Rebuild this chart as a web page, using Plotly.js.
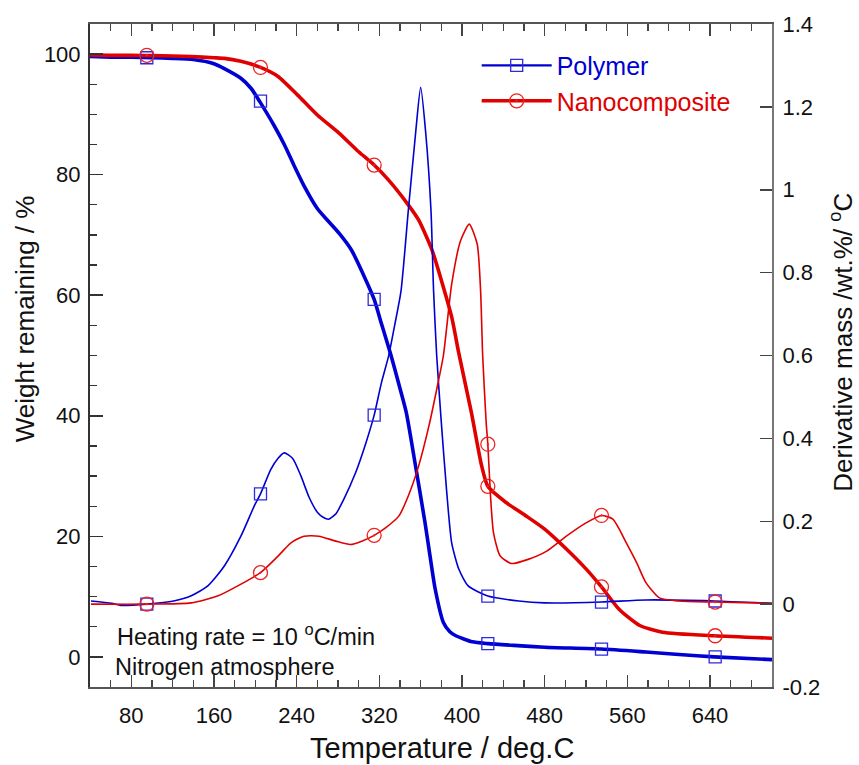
<!DOCTYPE html>
<html>
<head>
<meta charset="utf-8">
<script src="https://cdn.plot.ly/plotly-3.0.1.min.js"></script>
<style>html,body{margin:0;padding:0;background:#fff;}#chart{width:859px;height:765px;}</style>
</head>
<body>
<div id="chart"></div>
<script>
// ---- data ----
const polyTgaX = [40,60,80,100,120,140,160,170,186,196,204,218,228,237,247,260,270,281,293,307,315,322,331,338,346,355,364,369,374,382,388,394,410,425,450,480,535,578,610,644,700];
const polyTgaY = [99.6,99.5,99.5,99.4,99.3,99.1,98.4,97.6,96.0,94.3,92.2,88.2,85.0,81.7,78.2,74.4,72.4,70.3,67.5,62.5,59.3,55.3,50.2,45.8,40.6,31.7,22.5,16.8,11.3,5.7,4.2,3.5,2.5,2.2,1.9,1.6,1.3,0.8,0.4,0.0,-0.45];

const nanoTgaX = [40,60,80,100,120,138,160,170,186,205,222,241,260,281,300,315,329,348,358,371,380,390,397,409,419,425,442,461,480,501,520,535,552,572,594,644,700];
const nanoTgaY = [99.85,99.8,99.8,99.75,99.7,99.6,99.4,99.3,98.8,97.8,96.3,93.2,89.9,86.9,83.8,81.6,79.1,75.0,72.5,67.5,62.5,56.4,50.3,40.6,31.7,28.3,25.7,23.5,21.2,17.9,14.6,11.6,7.9,5.2,4.1,3.5,3.1];

const polyDtgX = [41,61,70,95,121,138,154,170,186,199,205,215,222,228,236,244,252,260,266,271,278,285,297,307,315,322,329,335,341,348,355,360,365,370,372.5,375.5,380,385,390,397,406,425,455,480,535,578,644,700];
const polyDtgY = [0.0075,0.002,-0.003,0.0,0.0075,0.02,0.044,0.092,0.164,0.237,0.266,0.325,0.352,0.365,0.352,0.31,0.258,0.222,0.209,0.205,0.218,0.25,0.317,0.389,0.456,0.534,0.599,0.675,0.756,0.949,1.134,1.247,1.134,0.949,0.756,0.600,0.438,0.277,0.148,0.084,0.044,0.0195,0.0075,0.003,0.005,0.01,0.0075,0.002];

const nanoDtgX = [41,95,138,164,183,205,222,234.5,247,261.5,278,292,303,315,326,339,348,358,368,375.5,382,390,398.6,407,414.7,418,420,423.4,425,427.6,430.5,437,448,464,482,501,520,535,546,559,569,578,591,610,644,700];
const nanoDtgY = [0.0,0.0,0.003,0.02,0.044,0.076,0.116,0.148,0.164,0.164,0.152,0.144,0.152,0.166,0.184,0.213,0.261,0.333,0.43,0.518,0.60,0.772,0.877,0.917,0.869,0.756,0.60,0.438,0.386,0.261,0.172,0.116,0.098,0.108,0.128,0.164,0.196,0.214,0.205,0.148,0.10,0.052,0.015,0.0075,0.005,0.002];

// symbols placed every 110 deg along each curve
const markX = [95,205,315,425,535,645];
const polyTgaMarkY = [99.4,92.2,59.3,2.2,1.3,0.0];
const nanoTgaMarkY = [99.8,97.8,81.6,28.3,11.6,3.5];
const polyDtgMarkY = [0.0,0.266,0.456,0.0195,0.005,0.0075];
const nanoDtgMarkY = [0.0,0.076,0.166,0.386,0.214,0.005];

const yRightTicks = [-0.2,0,0.2,0.4,0.6,0.8,1,1.2,1.4];
const yRightLabels = ['-0.2','0','0.2','0.4','0.6','0.8','1','1.2','1.4'];
const seriesNames = ['Polymer','Nanocomposite'];

// ---- styles ----
const BLUE = '#0000d2';
const RED = '#e00000';
const FONT = 'Liberation Sans, Arial, sans-serif';

const sq = {symbol:'square-open', size:12, color:'#2a2ae0', line:{width:1.3}};
const ci = {symbol:'circle-open-dot', size:14, color:'#ee2222', line:{width:1.3}};

const traces = [
  {x:polyDtgX, y:polyDtgY, yaxis:'y2', mode:'lines', line:{color:BLUE, width:1.6, shape:'spline', smoothing:0.6}, showlegend:false, hoverinfo:'skip'},
  {x:nanoDtgX, y:nanoDtgY, yaxis:'y2', mode:'lines', line:{color:RED, width:1.6, shape:'spline', smoothing:0.6}, showlegend:false, hoverinfo:'skip'},
  {x:polyTgaX, y:polyTgaY, mode:'lines', line:{color:BLUE, width:3.6, shape:'spline', smoothing:0.6}, showlegend:false, hoverinfo:'skip'},
  {x:nanoTgaX, y:nanoTgaY, mode:'lines', line:{color:RED, width:3.6, shape:'spline', smoothing:0.6}, showlegend:false, hoverinfo:'skip'},
  {x:markX, y:polyDtgMarkY, yaxis:'y2', mode:'markers', marker:sq, showlegend:false},
  {x:markX, y:nanoDtgMarkY, yaxis:'y2', mode:'markers', marker:ci, showlegend:false},
  {x:markX, y:polyTgaMarkY, mode:'markers', marker:sq, showlegend:false},
  {x:markX, y:nanoTgaMarkY, mode:'markers', marker:ci, showlegend:false},
  // legend entries
  {x:[null], y:[null], mode:'lines+markers', name:'<span style="color:'+BLUE+'">'+seriesNames[0]+'</span>', line:{color:BLUE, width:2.2}, marker:sq},
  {x:[null], y:[null], mode:'lines+markers', name:'<span style="color:'+RED+'">'+seriesNames[1]+'</span>', line:{color:RED, width:3.6}, marker:ci}
];

const layout = {
  width:859, height:765,
  margin:{l:90, r:87, t:24, b:78, pad:0},
  paper_bgcolor:'#fff', plot_bgcolor:'#fff',
  font:{family:FONT, size:22, color:'#111'},
  showlegend:true,
  legend:{x:0.567, y:0.972, xanchor:'left', yanchor:'top', bgcolor:'rgba(0,0,0,0)', font:{size:25, family:FONT}, itemwidth:70, tracegroupgap:0},
  xaxis:{range:[40,700], tick0:0, dtick:80, ticks:'inside', ticklen:12, tickwidth:1.5, tickcolor:'#444',
         minor:{dtick:20, ticks:'inside', ticklen:7, tickwidth:1.2, tickcolor:'#444'},
         showline:true, linecolor:'#555', linewidth:2, mirror:'ticks', showgrid:false, zeroline:false,
         ticklabelstandoff:8, tickfont:{size:22}},
  yaxis:{range:[-5,105], tick0:0, dtick:20, ticks:'inside', ticklen:13, tickwidth:1.5, tickcolor:'#333',
         minor:{dtick:5, ticks:'inside', ticklen:7, tickwidth:1.2, tickcolor:'#333'},
         showline:true, linecolor:'#333', linewidth:2, showgrid:false, zeroline:false,
         ticklabelstandoff:3, tickfont:{size:22}},
  yaxis2:{range:[-0.2,1.4], overlaying:'y', side:'right', tickvals:yRightTicks, ticktext:yRightLabels,
          ticks:'inside', ticklen:12, tickwidth:1.5, tickcolor:'#444',
          showline:true, linecolor:'#777', linewidth:2, showgrid:false, zeroline:false,
          ticklabelstandoff:4, tickfont:{size:22}},
  annotations:[
    {xref:'paper', yref:'paper', x:-0.095, y:0.555, text:'Weight remaining / %', textangle:-90, showarrow:false, font:{size:26}, xanchor:'center', yanchor:'middle'},
    {xref:'paper', yref:'paper', x:1.102, y:0.52, text:'Derivative mass /wt.%/ <sup>o</sup>C', textangle:-90, showarrow:false, font:{size:26}, xanchor:'center', yanchor:'middle'},
    {xref:'paper', yref:'paper', x:0.516, y:-0.092, text:'Temperature / deg.C', showarrow:false, font:{size:29}, xanchor:'center', yanchor:'middle'},
    {xref:'paper', yref:'paper', x:0.036, y:0.078, text:'Heating rate = 10 <sup>o</sup>C/min', showarrow:false, font:{size:23.5}, xanchor:'left', yanchor:'middle'},
    {xref:'paper', yref:'paper', x:0.033, y:0.030, text:'Nitrogen atmosphere', showarrow:false, font:{size:23.5}, xanchor:'left', yanchor:'middle'}
  ]
};

Plotly.newPlot('chart', traces, layout, {staticPlot:true, displayModeBar:false});
</script>
</body>
</html>
